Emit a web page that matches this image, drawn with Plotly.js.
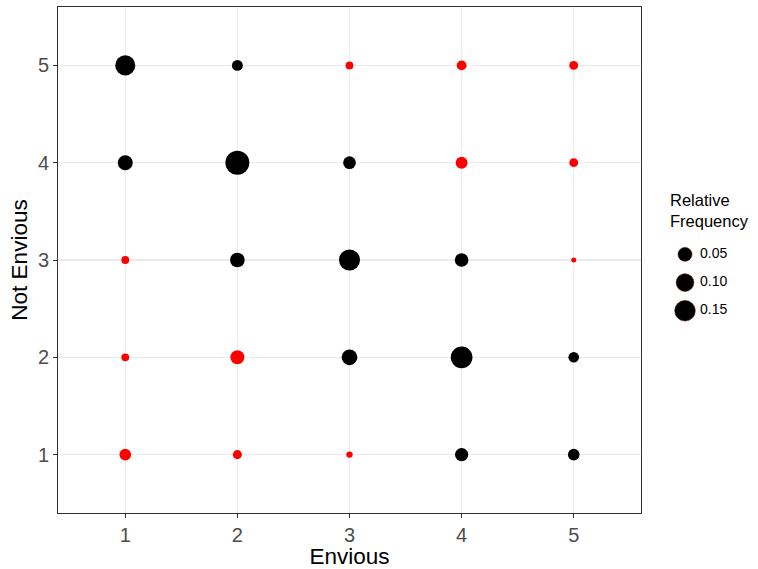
<!DOCTYPE html>
<html>
<head>
<meta charset="utf-8">
<script src="https://cdn.plot.ly/plotly-3.0.1.min.js"></script>
<style>html,body{margin:0;padding:0;background:#fff;}#chart{width:758px;height:569px;}</style>
</head>
<body>
<div id="chart"></div>
<script>
// Data
const envious    = [1,2,3,4,5, 1,2,3,4,5, 1,2,3,4,5, 1,2,3,4,5, 1,2,3,4,5];
const notEnvious = [5,5,5,5,5, 4,4,4,4,4, 3,3,3,3,3, 2,2,2,2,2, 1,1,1,1,1];
const relFreq    = [0.140,0.022,0.0055,0.015,0.0098,
                    0.062,0.223,0.037,0.030,0.0098,
                    0.0055,0.058,0.159,0.047,0.0006,
                    0.0055,0.050,0.071,0.173,0.020,
                    0.028,0.011,0.0017,0.043,0.028];
const pointColor = ['black','black','red','red','red',
                    'black','black','black','red','red',
                    'red','black','black','black','red',
                    'red','red','black','black','black',
                    'red','red','red','black','black'];
const tickLabels = ['1','2','3','4','5'];
const legendBreaks = [0.05, 0.10, 0.15];
const legendLabels = ['0.05','0.10','0.15'];

// ggplot-like area size scale
const vmin = Math.min(...relFreq), vmax = Math.max(...relFreq);
function sizeScale(v){ return 5 + 19*Math.sqrt(Math.max(0,(v - vmin)/(vmax - vmin))); }

const main = {
  x: envious, y: notEnvious, type: 'scatter', mode: 'markers',
  marker: {size: relFreq.map(sizeScale), sizemode: 'diameter', color: pointColor, line: {width: 0}, opacity: 1},
  xaxis: 'x', yaxis: 'y', hoverinfo: 'x+y', showlegend: false
};
const legIdx = legendBreaks.map((_, i) => i);
const legMarkers = {
  x: legIdx.map(() => 39), y: legIdx, type: 'scatter', mode: 'markers',
  marker: {size: legendBreaks.map(sizeScale), sizemode: 'diameter', color: '#000', opacity: 1, line: {width: 0.6, color: '#4a0a0a'}},
  xaxis: 'x2', yaxis: 'y2', hoverinfo: 'skip', showlegend: false
};
const legText = {
  x: legIdx.map(() => 54), y: legIdx, type: 'scatter', mode: 'text',
  text: legendLabels, textposition: 'middle right',
  textfont: {family: 'Liberation Sans, Arial, sans-serif', size: 14, color: '#000'},
  xaxis: 'x2', yaxis: 'y2', hoverinfo: 'skip', showlegend: false
};

const font = 'Liberation Sans, Arial, sans-serif';
const layout = {
  width: 758, height: 569,
  margin: {l: 58, r: 0, t: 7, b: 56},
  paper_bgcolor: '#fff', plot_bgcolor: '#fff',
  font: {family: font},
  showlegend: false,
  xaxis: {
    domain: [0, 583/700], range: [0.4, 5.6], tickvals: [1,2,3,4,5], ticktext: tickLabels,
    showgrid: true, gridcolor: '#EBEBEB', gridwidth: 1.2, zeroline: false,
    showline: true, mirror: true, linecolor: '#333', linewidth: 1,
    ticks: 'outside', ticklen: 4, tickcolor: '#333', tickwidth: 1,
    tickfont: {size: 20, color: '#4D4D4D', family: font},
    title: {text: 'Envious', font: {size: 22.5, color: '#000', family: font}, standoff: 6},
    fixedrange: true
  },
  yaxis: {
    range: [0.4, 5.6], tickvals: [1,2,3,4,5], ticktext: tickLabels,
    showgrid: true, gridcolor: '#EBEBEB', gridwidth: 1.2, zeroline: false,
    showline: true, mirror: true, linecolor: '#333', linewidth: 1,
    ticks: 'outside', ticklen: 4, tickcolor: '#333', tickwidth: 1,
    tickfont: {size: 20, color: '#4D4D4D', family: font},
    title: {text: 'Not Envious', font: {size: 22.5, color: '#000', family: font}, standoff: 4},
    fixedrange: true
  },
  xaxis2: {domain: [0.84, 1], range: [0, 112], visible: false, fixedrange: true, anchor: 'y2'},
  yaxis2: {domain: [0, 1], range: [9.17, -8.77], visible: false, fixedrange: true, anchor: 'x2'},
  annotations: [{
    xref: 'paper', yref: 'paper', x: (668-58)/700, y: (513-189)/506,
    xanchor: 'left', yanchor: 'top', align: 'left', showarrow: false,
    text: 'Relative<br>Frequency',
    font: {size: 16.5, color: '#000', family: font}
  }]
};

Plotly.newPlot('chart', [main, legMarkers, legText], layout, {displayModeBar: false, staticPlot: true});
</script>
</body>
</html>
